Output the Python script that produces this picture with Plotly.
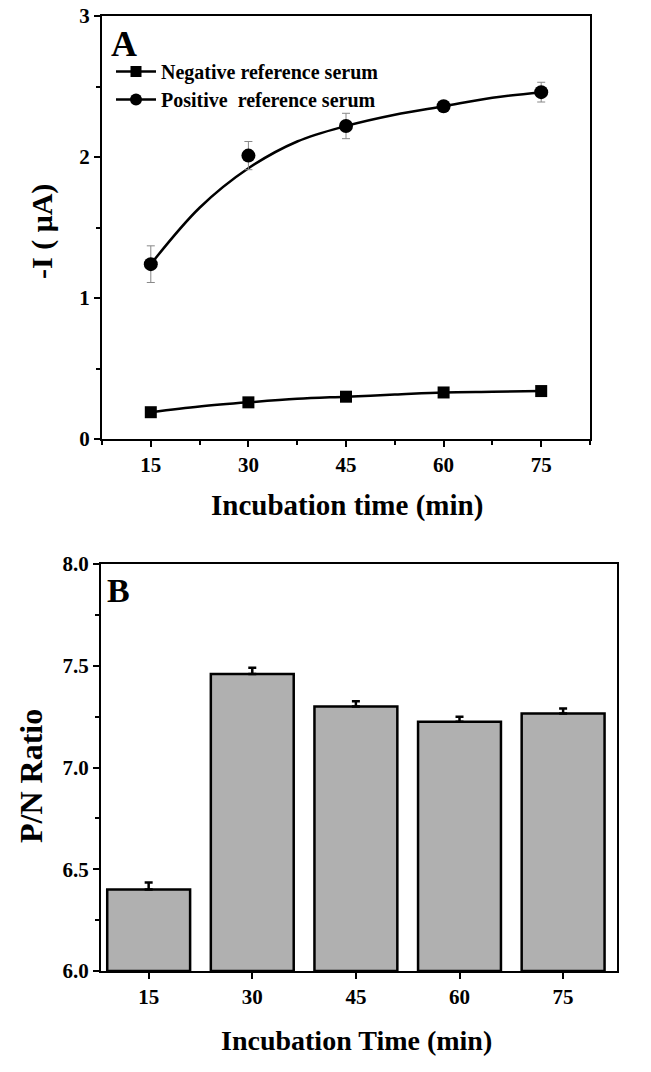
import plotly.graph_objects as go

# ---------------- data ----------------
time_min = [15, 30, 45, 60, 75]

neg_current = [0.19, 0.26, 0.30, 0.33, 0.34]
neg_err = [0.01, 0.01, 0.01, 0.01, 0.01]

pos_current = [1.24, 2.01, 2.22, 2.36, 2.46]
pos_err = [0.13, 0.10, 0.09, 0.03, 0.07]

# fitted curve
fit_time = [15, 22.5, 30, 37.5, 45, 52.5, 60, 67.5, 75]
pos_fit = [1.24, 1.64, 1.92, 2.11, 2.22, 2.30, 2.36, 2.42, 2.46]
neg_fit = [0.19, 0.23, 0.26, 0.285, 0.30, 0.315, 0.33, 0.335, 0.34]

pn_ratio = [6.40, 7.46, 7.30, 7.225, 7.265]
pn_err = [0.035, 0.03, 0.025, 0.025, 0.025]

tick_labels = ["15", "30", "45", "60", "75"]

W, H = 651, 1072
FONT = "Liberation Serif"


def px(x):
    return x / W


def py(y):
    return 1 - y / H


fig = go.Figure()

# ---------------- Panel A ----------------
fig.add_trace(go.Scatter(x=fit_time, y=neg_fit, mode="lines", line=dict(color="black", width=2.5, shape="spline"),
                         xaxis="x", yaxis="y", showlegend=False, hoverinfo="skip"))
fig.add_trace(go.Scatter(x=fit_time, y=pos_fit, mode="lines", line=dict(color="black", width=2.5, shape="spline"),
                         xaxis="x", yaxis="y", showlegend=False, hoverinfo="skip"))
fig.add_trace(go.Scatter(x=time_min, y=neg_current, mode="markers",
                         marker=dict(symbol="square", size=12, color="black"),
                         error_y=dict(type="data", array=neg_err, color="#888888", thickness=1, width=4),
                         xaxis="x", yaxis="y", showlegend=False))
fig.add_trace(go.Scatter(x=time_min, y=pos_current, mode="markers",
                         marker=dict(symbol="circle", size=14, color="black"),
                         error_y=dict(type="data", array=pos_err, color="#888888", thickness=1, width=4),
                         xaxis="x", yaxis="y", showlegend=False))
# legend entries
fig.add_trace(go.Scatter(x=[None], y=[None], mode="lines+markers", name="Negative reference serum",
                         line=dict(color="black", width=2.5), marker=dict(symbol="square", size=11, color="black"),
                         xaxis="x", yaxis="y", legend="legend"))
fig.add_trace(go.Scatter(x=[None], y=[None], mode="lines+markers", name="Positive  reference serum",
                         line=dict(color="black", width=2.5), marker=dict(symbol="circle", size=12, color="black"),
                         xaxis="x", yaxis="y", legend="legend2"))

# ---------------- Panel B ----------------
fig.add_trace(go.Bar(x=time_min, y=[v - 6.0 for v in pn_ratio], base=6.0, width=12,
                     marker=dict(color="#b0b0b0", line=dict(color="black", width=2.5)),
                     error_y=dict(type="data", array=pn_err, arrayminus=[0] * 5, color="black", thickness=2.5, width=4),
                     xaxis="x2", yaxis="y2", showlegend=False))

tickfont = dict(family=FONT, size=21, color="black", weight="bold")
common = dict(showline=True, linecolor="black", linewidth=2, mirror=True, ticks="outside",
              tickwidth=1.5, tickcolor="black", ticklen=6, tickfont=tickfont, showgrid=False,
              zeroline=False, automargin=False, ticklabeloverflow="allow")
legfont = dict(family=FONT, size=20, color="black", weight="bold")

fig.update_layout(
    width=W, height=H,
    margin=dict(l=0, r=0, t=0, b=0),
    paper_bgcolor="white", plot_bgcolor="white",
    font=dict(family=FONT, color="black"),
    barmode="overlay",
    xaxis=dict(domain=[px(102), px(590)], range=[7.5, 82.5], tickvals=time_min, ticktext=tick_labels,
               minor=dict(ticks="outside", ticklen=4, dtick=7.5, tick0=0, tickcolor="black", tickwidth=1.5),
               anchor="y", **common),
    yaxis=dict(domain=[py(439), py(16)], range=[0, 3], tickvals=[0, 1, 2, 3],
               minor=dict(ticks="outside", ticklen=4, dtick=0.5, tick0=0, tickcolor="black", tickwidth=1.5),
               anchor="x", **common),
    xaxis2=dict(domain=[px(101), px(617)], range=[8.1, 82.8], tickvals=time_min, ticktext=tick_labels,
                anchor="y2", **common),
    yaxis2=dict(domain=[py(971), py(564)], range=[6.0, 8.0], tickvals=[6.0, 6.5, 7.0, 7.5, 8.0],
                tickformat=".1f",
                minor=dict(ticks="outside", ticklen=4, dtick=0.25, tick0=0, tickcolor="black", tickwidth=1.5),
                anchor="x2", **common),
    legend=dict(x=px(111), y=py(52), xanchor="left", yanchor="top", bgcolor="rgba(0,0,0,0)",
                font=legfont, itemwidth=40),
    legend2=dict(x=px(111), y=py(80), xanchor="left", yanchor="top", bgcolor="rgba(0,0,0,0)",
                 font=legfont, itemwidth=40),
)

bold = dict(family=FONT, color="black", weight="bold")
annotations = [
    dict(text="A", x=px(109), y=py(44), xanchor="left", yanchor="middle", font=dict(size=36, **bold)),
    dict(text="B", x=px(105), y=py(590), xanchor="left", yanchor="middle", font=dict(size=34, **bold)),
    dict(text="-I ( μA)", x=px(42), y=py(232), textangle=-90, xanchor="center", yanchor="middle",
         font=dict(size=30, **bold)),
    dict(text="Incubation time (min)", x=px(347), y=py(506), xanchor="center", yanchor="middle",
         font=dict(size=29, **bold)),
    dict(text="P/N Ratio", x=px(31), y=py(776), textangle=-90, xanchor="center", yanchor="middle",
         font=dict(size=32, **bold)),
    dict(text="Incubation Time (min)", x=px(356), y=py(1040), xanchor="center", yanchor="middle",
         font=dict(size=28, **bold)),
]
for a in annotations:
    a.update(xref="paper", yref="paper", showarrow=False)
fig.update_layout(annotations=annotations)

fig.write_html("out.html", config={"displayModeBar": False},
               post_script="document.body.style.margin='0';document.body.style.overflow='hidden';")
